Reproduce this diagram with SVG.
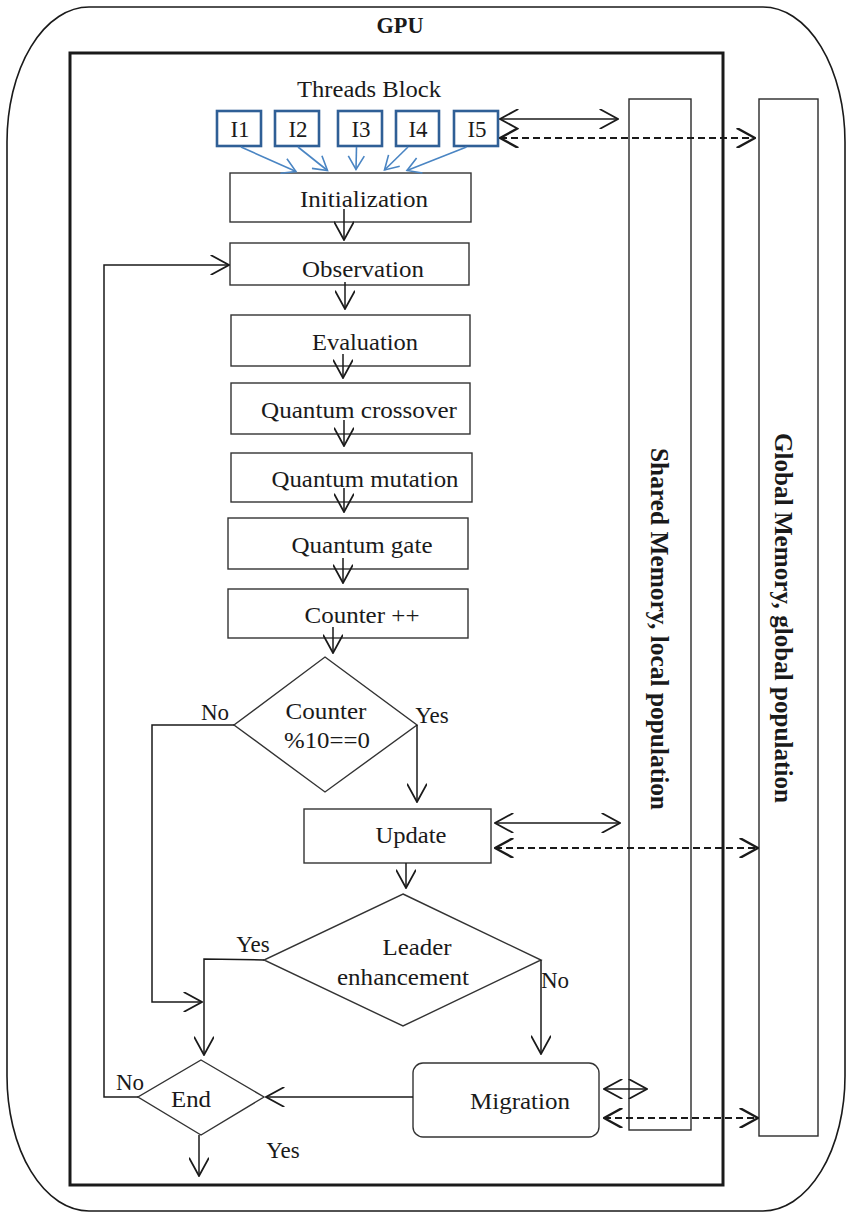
<svg xmlns="http://www.w3.org/2000/svg" width="850" height="1214" viewBox="0 0 850 1214">
  <defs>
    <marker id="arr" markerUnits="userSpaceOnUse" markerWidth="20" markerHeight="20" viewBox="0 0 17 18" refX="16.5" refY="9" orient="auto-start-reverse">
      <path d="M0,0 L16.5,9 L0,18" fill="none" stroke="#1a1a1a" stroke-width="1.6"/>
    </marker>
    <marker id="arrBold" markerUnits="userSpaceOnUse" markerWidth="20" markerHeight="20" viewBox="0 0 17 18" refX="16.5" refY="9" orient="auto-start-reverse">
      <path d="M0,0 L16.5,9 L0,18" fill="none" stroke="#1a1a1a" stroke-width="2.2"/>
    </marker>
    <marker id="arrBlue" markerUnits="userSpaceOnUse" markerWidth="18" markerHeight="18" viewBox="0 0 14 18" refX="13.5" refY="9" orient="auto">
      <path d="M0,1 L13.5,9 L0,17" fill="none" stroke="#4a85c3" stroke-width="1.6"/>
    </marker>
  </defs>
  <style>
    text { font-family: "Liberation Serif", "Times New Roman", serif; fill: #1a1a1a; }
    .lbl { font-size: 23px; text-anchor: middle; }
    .side { font-size: 25px; text-anchor: middle; font-weight: bold; }
    .bold { font-weight: bold; }
    .box { fill: #ffffff; stroke: #333333; stroke-width: 1.4; }
    .ibox { fill: #ffffff; stroke: #2f5f96; stroke-width: 2.6; }
    .col { fill: none; stroke: #2a2a2a; stroke-width: 1.4; }
    .flow { fill: none; stroke: #1a1a1a; stroke-width: 1.5; }
    .blue { fill: none; stroke: #4a85c3; stroke-width: 1.6; }
    .dash { fill: none; stroke: #1a1a1a; stroke-width: 2; stroke-dasharray: 7 4; }
  </style>

  <!-- GPU enclosure -->
  <g id="gpu">
    <rect x="7" y="7" width="838" height="1204" rx="82" ry="135" fill="#ffffff" stroke="#1a1a1a" stroke-width="1.6"/>
    <text x="400" y="33" class="lbl bold" font-size="22" textLength="47" lengthAdjust="spacingAndGlyphs">GPU</text>
  </g>

  <!-- Threads block frame -->
  <g id="threads-block">
    <rect x="70" y="53" width="653" height="1132" fill="none" stroke="#1a1a1a" stroke-width="3"/>
    <text x="369" y="97" class="lbl" textLength="144" lengthAdjust="spacingAndGlyphs">Threads Block</text>
  </g>

  <!-- Memory columns -->
  <g id="shared-memory">
    <rect x="629" y="99" width="62" height="1031" class="col"/>
    <text class="side" transform="translate(651,629) rotate(90)" textLength="362" lengthAdjust="spacingAndGlyphs">Shared Memory, local population</text>
  </g>
  <g id="global-memory">
    <rect x="759" y="99" width="59" height="1037" class="col"/>
    <text class="side" transform="translate(775,618) rotate(90)" textLength="370" lengthAdjust="spacingAndGlyphs">Global Memory, global population</text>
  </g>

  <!-- Individuals -->
  <g id="i1"><rect x="217" y="111" width="44" height="35" class="ibox"/><text x="240" y="137" class="lbl" font-size="24">I1</text></g>
  <g id="i2"><rect x="275" y="111" width="44" height="35" class="ibox"/><text x="298" y="137" class="lbl" font-size="24">I2</text></g>
  <g id="i3"><rect x="338" y="111" width="44" height="35" class="ibox"/><text x="361" y="137" class="lbl" font-size="24">I3</text></g>
  <g id="i4"><rect x="396" y="111" width="43" height="35" class="ibox"/><text x="418" y="137" class="lbl" font-size="24">I4</text></g>
  <g id="i5"><rect x="454" y="111" width="44" height="35" class="ibox"/><text x="477" y="137" class="lbl" font-size="24">I5</text></g>

  <!-- Process steps -->
  <g id="initialization"><rect x="230" y="173" width="241" height="49" class="box"/><text x="364" y="207" class="lbl" textLength="128" lengthAdjust="spacingAndGlyphs">Initialization</text></g>
  <g id="observation"><rect x="230" y="243" width="239" height="42" class="box"/><text x="363" y="277" class="lbl" textLength="122" lengthAdjust="spacingAndGlyphs">Observation</text></g>
  <g id="evaluation"><rect x="231" y="315" width="239" height="51" class="box"/><text x="365" y="350" class="lbl" textLength="106" lengthAdjust="spacingAndGlyphs">Evaluation</text></g>
  <g id="quantum-crossover"><rect x="231" y="383" width="239" height="51" class="box"/><text x="359" y="418" class="lbl" textLength="196" lengthAdjust="spacingAndGlyphs">Quantum crossover</text></g>
  <g id="quantum-mutation"><rect x="231" y="453" width="241" height="49" class="box"/><text x="365" y="487" class="lbl" textLength="187" lengthAdjust="spacingAndGlyphs">Quantum mutation</text></g>
  <g id="quantum-gate"><rect x="228" y="518" width="240" height="51" class="box"/><text x="362" y="553" class="lbl" textLength="141" lengthAdjust="spacingAndGlyphs">Quantum gate</text></g>
  <g id="counter-inc"><rect x="228" y="589" width="240" height="49" class="box"/><text x="362" y="623" class="lbl" textLength="115" lengthAdjust="spacingAndGlyphs">Counter ++</text></g>

  <g id="counter-check">
    <polygon points="325,657 417,725 325,792 234,725" class="box"/>
    <text x="326" y="719" class="lbl" textLength="81" lengthAdjust="spacingAndGlyphs">Counter</text>
    <text x="327" y="748" class="lbl" textLength="86" lengthAdjust="spacingAndGlyphs">%10==0</text>
  </g>

  <g id="update"><rect x="304" y="809" width="187" height="54" class="box"/><text x="411" y="843" class="lbl" textLength="71" lengthAdjust="spacingAndGlyphs">Update</text></g>

  <g id="leader-enhancement">
    <polygon points="403,894 541,960 403,1026 264,960" class="box"/>
    <text x="417" y="955" class="lbl" textLength="69" lengthAdjust="spacingAndGlyphs">Leader</text>
    <text x="403" y="985" class="lbl" textLength="132" lengthAdjust="spacingAndGlyphs">enhancement</text>
  </g>

  <g id="end">
    <polygon points="201,1060 264,1097 201,1135 138,1097" class="box"/>
    <text x="191" y="1107" class="lbl" textLength="40" lengthAdjust="spacingAndGlyphs">End</text>
  </g>

  <g id="migration"><rect x="413" y="1063" width="186" height="74" rx="10" ry="10" class="box"/><text x="520" y="1109" class="lbl" textLength="100" lengthAdjust="spacingAndGlyphs">Migration</text></g>

  <!-- Connectors -->
  <g id="connectors">
    <!-- individuals into initialization -->
    <line x1="241" y1="147" x2="296" y2="171.5" class="blue" marker-end="url(#arrBlue)"/>
    <line x1="298" y1="147" x2="327.5" y2="170.5" class="blue" marker-end="url(#arrBlue)"/>
    <line x1="356.5" y1="147" x2="356" y2="169.5" class="blue" marker-end="url(#arrBlue)"/>
    <line x1="408" y1="147" x2="384.5" y2="170" class="blue" marker-end="url(#arrBlue)"/>
    <line x1="466.5" y1="147" x2="407" y2="170.5" class="blue" marker-end="url(#arrBlue)"/>

    <!-- main flow -->
    <line x1="344" y1="209" x2="344" y2="240" class="flow" marker-end="url(#arr)"/>
    <line x1="345" y1="282" x2="345" y2="309" class="flow" marker-end="url(#arr)"/>
    <line x1="343" y1="354" x2="343" y2="378" class="flow" marker-end="url(#arr)"/>
    <line x1="344" y1="420" x2="344" y2="446" class="flow" marker-end="url(#arr)"/>
    <line x1="344" y1="488" x2="344" y2="512" class="flow" marker-end="url(#arr)"/>
    <line x1="343" y1="558" x2="343" y2="583" class="flow" marker-end="url(#arr)"/>
    <line x1="333" y1="627" x2="333" y2="653" class="flow" marker-end="url(#arr)"/>
    <polyline points="417,725 417,802" class="flow" marker-end="url(#arr)"/>
    <polyline points="234,725 152,725 152,1002 202,1002" class="flow" marker-end="url(#arr)"/>
    <line x1="406" y1="863" x2="406" y2="888" class="flow" marker-end="url(#arr)"/>
    <polyline points="264,960 204,959 204,1055" class="flow" marker-end="url(#arr)"/>
    <polyline points="541,960 541,1054" class="flow" marker-end="url(#arr)"/>
    <line x1="413" y1="1097" x2="266" y2="1097" class="flow" marker-end="url(#arr)"/>
    <polyline points="138,1097 104,1097 104,265 229,265" class="flow" marker-end="url(#arr)"/>
    <line x1="199" y1="1135" x2="199" y2="1176" class="flow" marker-end="url(#arr)"/>

    <!-- memory transfers -->
    <line x1="500" y1="119" x2="618" y2="119" class="flow" marker-start="url(#arr)" marker-end="url(#arr)"/>
    <line x1="500" y1="138" x2="755" y2="138" class="dash" marker-start="url(#arrBold)" marker-end="url(#arrBold)"/>
    <line x1="495" y1="823" x2="620" y2="823" class="flow" marker-start="url(#arr)" marker-end="url(#arr)"/>
    <line x1="495" y1="848" x2="758" y2="848" class="dash" marker-start="url(#arrBold)" marker-end="url(#arrBold)"/>
    <line x1="604" y1="1089" x2="647" y2="1089" class="flow" marker-start="url(#arr)" marker-end="url(#arr)"/>
    <line x1="604" y1="1118" x2="758" y2="1118" class="dash" marker-start="url(#arrBold)" marker-end="url(#arrBold)"/>

    <!-- branch labels -->
    <text x="215" y="720" class="lbl">No</text>
    <text x="432" y="723" class="lbl">Yes</text>
    <text x="253" y="952" class="lbl">Yes</text>
    <text x="555" y="988" class="lbl">No</text>
    <text x="130" y="1090" class="lbl">No</text>
    <text x="283" y="1158" class="lbl">Yes</text>
  </g>
</svg>
